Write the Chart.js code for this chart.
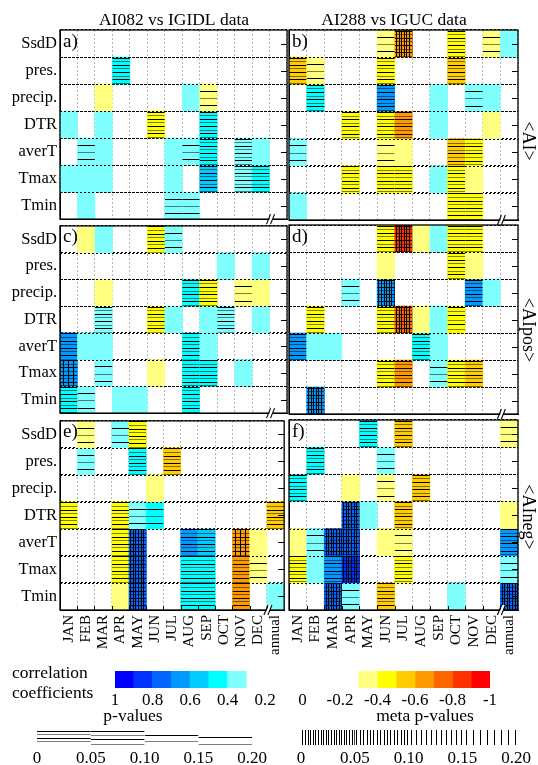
<!DOCTYPE html>
<html>
<head>
<meta charset="utf-8">
<script src="https://cdn.jsdelivr.net/npm/chart.js@4.4.1/dist/chart.umd.min.js"></script>
<style>
  html, body { margin: 0; padding: 0; background: #fff; overflow: hidden; }
  #page { position: relative; width: 538px; height: 765px; overflow: hidden; }
  #page canvas { position: absolute; }
</style>
</head>
<body>
<div id="page"></div>
<script>
const months = ['JAN', 'FEB', 'MAR', 'APR', 'MAY', 'JUN', 'JUL', 'AUG', 'SEP', 'OCT', 'NOV', 'DEC', 'annual'];
const variables = ['SsdD', 'pres.', 'precip.', 'DTR', 'averT', 'Tmax', 'Tmin'];

// cells: [variable, month, correlation, p-value, meta p-value]
const cellsA = [
  ['pres.', 'APR', 0.45, 0.03, null],
  ['precip.', 'MAR', -0.35, null, null],
  ['precip.', 'AUG', 0.35, null, null],
  ['precip.', 'SEP', -0.35, 0.17, null],
  ['DTR', 'JAN', 0.35, null, null],
  ['DTR', 'MAR', 0.35, null, null],
  ['DTR', 'JUN', -0.45, 0.03, null],
  ['DTR', 'SEP', 0.45, 0.03, null],
  ['averT', 'FEB', 0.35, 0.17, null],
  ['averT', 'MAR', 0.35, null, null],
  ['averT', 'JUL', 0.35, null, null],
  ['averT', 'AUG', 0.35, 0.17, null],
  ['averT', 'SEP', 0.45, 0.03, null],
  ['averT', 'NOV', 0.38, 0.03, null],
  ['averT', 'DEC', 0.35, null, null],
  ['Tmax', 'JAN', 0.35, null, null],
  ['Tmax', 'FEB', 0.35, null, null],
  ['Tmax', 'MAR', 0.35, null, null],
  ['Tmax', 'JUL', 0.35, null, null],
  ['Tmax', 'SEP', 0.55, 0.02, null],
  ['Tmax', 'NOV', 0.38, 0.04, null],
  ['Tmax', 'DEC', 0.45, 0.04, null],
  ['Tmin', 'FEB', 0.35, null, null],
  ['Tmin', 'JUL', 0.35, 0.17, null],
  ['Tmin', 'AUG', 0.35, 0.17, null]
];

const cellsB = [
  ['SsdD', 'JUN', -0.35, 0.17, null],
  ['SsdD', 'JUL', -0.65, 0.02, 0.02],
  ['SsdD', 'OCT', -0.45, 0.03, null],
  ['SsdD', 'DEC', -0.35, 0.17, null],
  ['SsdD', 'annual', 0.35, null, null],
  ['pres.', 'JAN', -0.55, 0.03, null],
  ['pres.', 'FEB', -0.35, 0.15, null],
  ['pres.', 'JUN', -0.45, 0.03, null],
  ['pres.', 'OCT', -0.55, 0.03, null],
  ['precip.', 'FEB', 0.45, 0.03, null],
  ['precip.', 'JUN', 0.62, 0.02, null],
  ['precip.', 'SEP', 0.35, null, null],
  ['precip.', 'NOV', 0.35, 0.17, null],
  ['precip.', 'DEC', 0.35, null, null],
  ['DTR', 'APR', -0.45, 0.03, null],
  ['DTR', 'JUN', -0.45, 0.03, null],
  ['DTR', 'JUL', -0.65, 0.03, null],
  ['DTR', 'SEP', 0.35, null, null],
  ['DTR', 'DEC', -0.35, null, null],
  ['averT', 'JAN', 0.35, 0.17, null],
  ['averT', 'JUN', -0.35, 0.17, null],
  ['averT', 'JUL', -0.35, null, null],
  ['averT', 'OCT', -0.55, 0.03, null],
  ['averT', 'NOV', -0.45, 0.03, null],
  ['Tmax', 'APR', -0.45, 0.03, null],
  ['Tmax', 'JUN', -0.45, 0.03, null],
  ['Tmax', 'JUL', -0.45, 0.03, null],
  ['Tmax', 'SEP', 0.35, null, null],
  ['Tmax', 'OCT', -0.45, 0.03, null],
  ['Tmax', 'NOV', -0.35, null, null],
  ['Tmin', 'JAN', 0.35, null, null],
  ['Tmin', 'OCT', -0.45, 0.03, null],
  ['Tmin', 'NOV', -0.45, 0.03, null]
];

const cellsC = [
  ['SsdD', 'FEB', -0.35, null, null],
  ['SsdD', 'MAR', 0.35, null, null],
  ['SsdD', 'JUN', -0.45, 0.03, null],
  ['SsdD', 'JUL', 0.35, 0.17, null],
  ['pres.', 'OCT', 0.35, null, null],
  ['pres.', 'DEC', 0.35, null, null],
  ['precip.', 'MAR', -0.35, null, null],
  ['precip.', 'AUG', 0.45, 0.03, null],
  ['precip.', 'SEP', -0.45, 0.03, null],
  ['precip.', 'NOV', -0.35, 0.17, null],
  ['precip.', 'DEC', -0.35, null, null],
  ['DTR', 'MAR', 0.38, 0.04, null],
  ['DTR', 'JUN', -0.45, 0.03, null],
  ['DTR', 'JUL', 0.35, null, null],
  ['DTR', 'SEP', 0.35, null, null],
  ['DTR', 'OCT', 0.38, 0.04, null],
  ['DTR', 'DEC', 0.35, null, null],
  ['averT', 'JAN', 0.62, 0.02, null],
  ['averT', 'FEB', 0.35, null, null],
  ['averT', 'MAR', 0.35, null, null],
  ['averT', 'AUG', 0.45, 0.03, null],
  ['averT', 'SEP', 0.35, null, null],
  ['Tmax', 'JAN', 0.68, 0.02, 0.12],
  ['Tmax', 'MAR', 0.35, 0.17, null],
  ['Tmax', 'JUN', -0.35, null, null],
  ['Tmax', 'AUG', 0.45, 0.03, null],
  ['Tmax', 'SEP', 0.45, 0.04, null],
  ['Tmax', 'NOV', 0.35, null, null],
  ['Tmin', 'JAN', 0.45, 0.03, null],
  ['Tmin', 'FEB', 0.35, 0.17, null],
  ['Tmin', 'APR', 0.35, null, null],
  ['Tmin', 'MAY', 0.35, null, null],
  ['Tmin', 'AUG', 0.45, 0.03, null]
];

const cellsD = [
  ['SsdD', 'JUN', -0.45, 0.03, null],
  ['SsdD', 'JUL', -0.85, 0.02, 0.02],
  ['SsdD', 'AUG', -0.35, null, null],
  ['SsdD', 'SEP', 0.35, null, null],
  ['SsdD', 'OCT', -0.45, 0.03, null],
  ['SsdD', 'NOV', -0.45, 0.03, null],
  ['pres.', 'JUN', -0.35, null, null],
  ['pres.', 'OCT', -0.45, 0.03, null],
  ['pres.', 'NOV', -0.35, null, null],
  ['precip.', 'APR', 0.35, 0.17, null],
  ['precip.', 'JUN', 0.65, 0.02, 0.03],
  ['precip.', 'NOV', 0.62, 0.03, null],
  ['precip.', 'DEC', 0.35, null, null],
  ['DTR', 'FEB', -0.45, 0.03, null],
  ['DTR', 'JUN', -0.45, 0.03, null],
  ['DTR', 'JUL', -0.75, 0.02, 0.02],
  ['DTR', 'AUG', -0.35, null, null],
  ['DTR', 'SEP', 0.35, null, null],
  ['DTR', 'OCT', -0.45, 0.06, null],
  ['averT', 'JAN', 0.62, 0.03, null],
  ['averT', 'FEB', 0.35, null, null],
  ['averT', 'MAR', 0.35, null, null],
  ['averT', 'AUG', 0.45, 0.03, null],
  ['averT', 'SEP', 0.35, null, null],
  ['Tmax', 'JUN', -0.45, 0.03, null],
  ['Tmax', 'JUL', -0.65, 0.03, null],
  ['Tmax', 'SEP', 0.35, 0.17, null],
  ['Tmax', 'OCT', -0.45, 0.03, null],
  ['Tmax', 'NOV', -0.55, 0.03, null],
  ['Tmin', 'FEB', 0.68, 0.02, 0.03]
];

const cellsE = [
  ['SsdD', 'FEB', -0.35, 0.17, null],
  ['SsdD', 'APR', 0.35, 0.17, null],
  ['SsdD', 'MAY', -0.45, 0.03, null],
  ['pres.', 'FEB', 0.35, 0.17, null],
  ['pres.', 'MAY', 0.45, 0.03, null],
  ['pres.', 'JUL', -0.55, 0.03, null],
  ['precip.', 'JUN', -0.35, null, null],
  ['DTR', 'JAN', -0.45, 0.03, null],
  ['DTR', 'APR', -0.45, 0.03, null],
  ['DTR', 'MAY', 0.35, 0.17, null],
  ['DTR', 'JUN', 0.45, 0.17, null],
  ['DTR', 'annual', -0.55, 0.03, null],
  ['averT', 'APR', -0.45, 0.03, null],
  ['averT', 'MAY', 0.75, 0.02, 0.02],
  ['averT', 'AUG', 0.62, 0.03, null],
  ['averT', 'SEP', 0.58, 0.03, null],
  ['averT', 'NOV', -0.65, 0.02, 0.12],
  ['averT', 'DEC', -0.35, null, null],
  ['Tmax', 'APR', -0.45, 0.03, null],
  ['Tmax', 'MAY', 0.72, 0.02, 0.03],
  ['Tmax', 'AUG', 0.45, 0.03, null],
  ['Tmax', 'SEP', 0.45, 0.03, null],
  ['Tmax', 'NOV', -0.65, 0.03, null],
  ['Tmax', 'DEC', -0.35, 0.17, null],
  ['Tmin', 'APR', -0.35, null, null],
  ['Tmin', 'MAY', 0.75, 0.02, 0.02],
  ['Tmin', 'AUG', 0.45, 0.03, null],
  ['Tmin', 'SEP', 0.45, 0.03, null],
  ['Tmin', 'NOV', -0.65, 0.03, null],
  ['Tmin', 'annual', 0.35, null, null]
];

const cellsF = [
  ['SsdD', 'MAY', 0.45, 0.03, null],
  ['SsdD', 'JUL', -0.55, 0.03, null],
  ['SsdD', 'annual', -0.35, 0.17, null],
  ['pres.', 'FEB', 0.45, 0.03, null],
  ['pres.', 'JUN', 0.35, 0.17, null],
  ['precip.', 'JAN', 0.45, 0.03, null],
  ['precip.', 'APR', -0.35, null, null],
  ['precip.', 'JUN', -0.35, 0.17, null],
  ['precip.', 'AUG', -0.55, 0.03, null],
  ['DTR', 'APR', 0.72, 0.02, 0.02],
  ['DTR', 'MAY', 0.35, null, null],
  ['DTR', 'JUL', -0.55, 0.03, null],
  ['DTR', 'annual', -0.35, null, null],
  ['averT', 'JAN', -0.35, null, null],
  ['averT', 'FEB', 0.35, 0.17, null],
  ['averT', 'MAR', 0.72, 0.02, 0.03],
  ['averT', 'APR', 0.72, 0.02, 0.03],
  ['averT', 'JUN', -0.35, null, null],
  ['averT', 'JUL', -0.35, 0.17, null],
  ['averT', 'annual', 0.62, 0.03, null],
  ['Tmax', 'JAN', -0.45, 0.03, null],
  ['Tmax', 'FEB', 0.35, null, null],
  ['Tmax', 'MAR', 0.62, 0.03, null],
  ['Tmax', 'APR', 0.82, 0.02, 0.02],
  ['Tmax', 'JUL', -0.45, 0.03, null],
  ['Tmax', 'annual', 0.35, 0.17, null],
  ['Tmin', 'MAR', 0.72, 0.02, 0.03],
  ['Tmin', 'APR', 0.35, 0.17, null],
  ['Tmin', 'JUN', -0.55, 0.03, null],
  ['Tmin', 'OCT', 0.35, null, null],
  ['Tmin', 'annual', 0.72, 0.02, 0.03]
];

// colour classes, |r| from 0.3 to 1 in steps of 0.1
const legendSteps = [0.3, 0.4, 0.5, 0.6, 0.7, 0.8, 0.9, 1.0];
const posColors = ['#80FFFF', '#00FFFF', '#00CCFF', '#0099FF', '#0066FF', '#0033FF', '#0000FF'];
const negColors = ['#FFFF80', '#FFFF00', '#FFCC00', '#FF9900', '#FF6600', '#FF3300', '#FF0000'];
const colorTicks = [1, 0.8, 0.6, 0.4, 0.2, 0, -0.2, -0.4, -0.6, -0.8, -1];
const pEdges = [0, 0.05, 0.10, 0.15, 0.20];

Chart.defaults.font.family = '"Liberation Serif", "Times New Roman", serif';
Chart.defaults.color = '#000';

function corrColor(r) {
  let k = Math.floor((Math.abs(r) - 0.3) * 10 + 1e-6);
  k = Math.max(0, Math.min(6, k));
  return (r > 0 ? posColors : negColors)[k];
}
function pGap(p) { return p < 0.05 ? 3.6 : p < 0.10 ? 4.4 : p < 0.15 ? 5.6 : 7.2; }
function metaGap(p) { return p < 0.05 ? 2.6 : p < 0.10 ? 3.4 : p < 0.15 ? 5 : 7; }

function elRect(el) {
  const p = el.getProps(['x', 'y', 'base', 'width', 'height', 'horizontal'], true);
  if (p.horizontal) {
    return {l: Math.min(p.x, p.base), r: Math.max(p.x, p.base), t: p.y - p.height / 2, b: p.y + p.height / 2};
  }
  return {l: p.x - p.width / 2, r: p.x + p.width / 2, t: Math.min(p.y, p.base), b: Math.max(p.y, p.base)};
}

function drawHatch(ctx, r, p, meta) {
  ctx.save();
  ctx.beginPath();
  ctx.rect(r.l, r.t, r.r - r.l, r.b - r.t);
  ctx.clip();
  ctx.lineWidth = 1;
  if (p != null) {
    const s = pGap(p);
    let k = 0;
    for (let y = r.t + (s > 5 ? s * 0.95 : 0.5); y < r.b; y += s, k++) {
      const yy = Math.round(y) + 0.5;
      ctx.strokeStyle = k % 2 ? 'rgba(0,0,0,0.5)' : '#000';
      ctx.beginPath(); ctx.moveTo(r.l, yy); ctx.lineTo(r.r, yy); ctx.stroke();
    }
  }
  if (meta != null) {
    const s = metaGap(meta);
    ctx.strokeStyle = '#000';
    for (let x = r.l + s / 2; x < r.r; x += s) {
      const xx = Math.round(x) + 0.5;
      ctx.beginPath(); ctx.moveTo(xx, r.t); ctx.lineTo(xx, r.b); ctx.stroke();
    }
  }
  ctx.restore();
}

const hatchPlugin = {
  id: 'hatch',
  afterDatasetsDraw(chart) {
    chart.data.datasets.forEach((ds, d) => {
      if (!ds.hatch) return;
      chart.getDatasetMeta(d).data.forEach((el, j) => {
        const h = ds.hatch[j];
        if (!h || ds.data[j] == null) return;
        drawHatch(chart.ctx, elRect(el), h.p, h.meta);
      });
    });
  }
};

const textPlugin = {
  id: 'texts',
  afterDraw(chart, args, o) {
    const ctx = chart.ctx;
    (o.items || []).forEach(t => {
      ctx.save();
      ctx.fillStyle = '#000';
      ctx.font = t.size + 'px "Liberation Serif", serif';
      ctx.textAlign = t.align || 'left';
      ctx.textBaseline = t.baseline || 'alphabetic';
      ctx.translate(t.x - o.ox, t.y - o.oy);
      if (t.rotate) ctx.rotate(t.rotate);
      ctx.fillText(t.text, 0, 0);
      ctx.restore();
    });
  }
};

const panelPlugin = {
  id: 'panelDeco',
  afterDatasetsDraw(chart) {
    // dotted row separators lie over the coloured cells
    const ctx = chart.ctx, ys = chart.scales.y;
    const {left, right} = chart.chartArea;
    ctx.save();
    ctx.strokeStyle = '#000';
    ctx.lineWidth = 1;
    ctx.setLineDash([2, 2]);
    for (let i = 1; i < variables.length; i++) {
      const y = Math.round(ys.getPixelForValue(i)) + 0.5;
      ctx.beginPath(); ctx.moveTo(left, y); ctx.lineTo(right, y); ctx.stroke();
    }
    ctx.restore();
  },
  afterDraw(chart, args, o) {
    const ctx = chart.ctx, xs = chart.scales.x, ys = chart.scales.y;
    const {left, right, top, bottom} = chart.chartArea;
    ctx.save();
    ctx.strokeStyle = '#000';
    ctx.lineWidth = 1.3;
    ctx.strokeRect(left, top, right - left, bottom - top);
    ctx.lineWidth = 1;
    variables.forEach((v, i) => {
      const y = Math.round(ys.getPixelForValue(i + 0.5)) + 0.5;
      ctx.beginPath(); ctx.moveTo(right - 6, y); ctx.lineTo(right, y); ctx.stroke();
    });
    if (o.bottomTicks) {
      for (let i = 1; i < months.length; i++) {
        const x = Math.round((xs.getPixelForValue(i - 1) + xs.getPixelForValue(i)) / 2) + 0.5;
        ctx.beginPath(); ctx.moveTo(x, bottom); ctx.lineTo(x, bottom - 4); ctx.stroke();
      }
    }
    // axis break between DEC and annual
    const xb = (xs.getPixelForValue(11) + xs.getPixelForValue(12)) / 2 + 2;
    ctx.fillStyle = '#fff';
    ctx.beginPath();
    ctx.moveTo(xb - 4, bottom + 5); ctx.lineTo(xb, bottom - 5);
    ctx.lineTo(xb + 3, bottom - 5); ctx.lineTo(xb - 1, bottom + 5);
    ctx.closePath(); ctx.fill();
    ctx.lineWidth = 1.1;
    ctx.beginPath(); ctx.moveTo(xb - 5, bottom + 5); ctx.lineTo(xb - 1, bottom - 5); ctx.stroke();
    ctx.beginPath(); ctx.moveTo(xb - 1, bottom + 5); ctx.lineTo(xb + 3, bottom - 5); ctx.stroke();
    ctx.restore();
  }
};

function addCanvas(left, top, width, height) {
  const cv = document.createElement('canvas');
  cv.width = width; cv.height = height;
  cv.style.left = left + 'px'; cv.style.top = top + 'px';
  cv.style.width = width + 'px'; cv.style.height = height + 'px';
  document.getElementById('page').appendChild(cv);
  return cv;
}

function drawPanel(cells, g) {
  const cv = addCanvas(g.cx, g.cy, g.cw, g.ch);
  const lookup = variables.map(v => months.map(m => cells.find(c => c[0] === v && c[1] === m) || null));
  const datasets = variables.map((v, i) => ({
    label: v,
    data: lookup[i].map(c => c ? [i, i + 1] : null),
    backgroundColor: lookup[i].map(c => c ? corrColor(c[2]) : 'rgba(0,0,0,0)'),
    hatch: lookup[i].map(c => c ? {p: c[3], meta: c[4]} : null),
    grouped: false,
    barPercentage: 1,
    categoryPercentage: 1,
    borderWidth: 0
  }));
  return new Chart(cv, {
    type: 'bar',
    data: {labels: months, datasets: datasets},
    options: {
      responsive: false,
      animation: false,
      events: [],
      layout: {padding: g.pad},
      plugins: {
        legend: {display: false},
        tooltip: {enabled: false},
        panelDeco: {bottomTicks: g.bottom},
        texts: {ox: g.cx, oy: g.cy, items: g.texts}
      },
      scales: {
        x: {
          offset: true,
          grid: {offset: true, color: '#b4b4b4', drawTicks: false},
          border: {display: true, color: '#000', width: 1, dash: [2, 2]},
          ticks: {display: g.bottom, autoSkip: false, minRotation: 90, maxRotation: 90, padding: 5, font: {size: 15}},
          afterFit: s => { s.height = g.bottom ? 50 : 0; }
        },
        y: {
          type: 'linear',
          min: 0,
          max: 7,
          reverse: true,
          afterBuildTicks: s => { s.ticks = variables.map((v, i) => ({value: i + 0.5})); },
          grid: {offset: true, color: '#000', drawTicks: false},
          border: {display: true, color: '#000', width: 1, dash: [2, 2]},
          ticks: {display: g.leftCol, autoSkip: false, padding: 3, font: {size: 16.5}, callback: (v, i) => variables[i]},
          afterFit: s => { s.width = g.leftCol ? 60 : 0; }
        }
      }
    },
    plugins: [hatchPlugin, panelPlugin, textPlugin]
  });
}

// panel frames: left column plot x 60-287, right column 289-518
const panelList = [
  {cells: cellsA, col: 0, row: 0, letter: 'a)', title: 'AI082 vs IGIDL data', titleX: 174},
  {cells: cellsB, col: 1, row: 0, letter: 'b)', title: 'AI288 vs IGUC data', titleX: 394, side: '<AI>', sideY: 141},
  {cells: cellsC, col: 0, row: 1, letter: 'c)'},
  {cells: cellsD, col: 1, row: 1, letter: 'd)', side: '<AIpos>', sideY: 330},
  {cells: cellsE, col: 0, row: 2, letter: 'e)'},
  {cells: cellsF, col: 1, row: 2, letter: 'f)', side: '<AIneg>', sideY: 517}
];
const colFrames = [[60, 287], [289, 518]];
const rowFrames = [[30, 220], [225, 414], [420, 610]];

panelList.forEach(p => {
  const [L, R] = colFrames[p.col];
  const [T, B] = rowFrames[p.row];
  const leftCol = p.col === 0;
  const bottom = p.row === 2;
  const cx = leftCol ? 0 : L - 12;
  const cw = leftCol ? R + 12 : 538 - cx;
  const cy = p.row === 0 ? 0 : T - 12;
  const ch = bottom ? (B - cy) + 50 : (B - cy) + 12;
  const texts = [{text: p.letter, x: L + 3, y: T + 17, size: 19}];
  if (p.title) texts.push({text: p.title, x: p.titleX, y: 25, size: 17.5, align: 'center'});
  if (p.side) texts.push({text: p.side, x: 528, y: p.sideY, size: 18, align: 'center', baseline: 'middle', rotate: Math.PI / 2});
  drawPanel(p.cells, {
    cx: cx, cy: cy, cw: cw, ch: ch, leftCol: leftCol, bottom: bottom, texts: texts,
    pad: {left: leftCol ? 0 : 12, right: cw - (R - cx), top: T - cy, bottom: bottom ? 0 : 12}
  });
});

// colour legend
(function () {
  const ox = 0, oy = 655;
  const cv = addCanvas(ox, oy, 538, 60);
  const boxes = [];
  for (let k = 0; k < 7; k++) {
    boxes.push({from: legendSteps[k], to: legendSteps[k + 1], color: posColors[k]});
    boxes.push({from: -legendSteps[k], to: -legendSteps[k + 1], color: negColors[k]});
  }
  new Chart(cv, {
    type: 'bar',
    data: {
      labels: [''],
      datasets: boxes.map(b => ({data: [[b.from, b.to]], backgroundColor: b.color, grouped: false,
        barPercentage: 1, categoryPercentage: 1, borderWidth: 0}))
    },
    options: {
      indexAxis: 'y', responsive: false, animation: false, events: [],
      layout: {padding: {left: 115, right: 48, top: 16, bottom: 0}},
      plugins: {
        legend: {display: false}, tooltip: {enabled: false},
        texts: {ox: ox, oy: oy, items: [
          {text: 'correlation', x: 12, y: 678, size: 17.5},
          {text: 'coefficients', x: 12, y: 698, size: 17.5}
        ]}
      },
      scales: {
        x: {
          type: 'linear', min: -1, max: 1, reverse: true,
          afterBuildTicks: s => { s.ticks = colorTicks.map(v => ({value: v})); },
          grid: {display: false, drawTicks: false}, border: {display: false},
          ticks: {autoSkip: false, maxRotation: 0, padding: 2, font: {size: 17},
            callback: v => String(Math.round(v * 10) / 10)},
          afterFit: s => { s.height = 27; }
        },
        y: {display: false}
      }
    },
    plugins: [textPlugin]
  });
})();

// p-value and meta p-value legends
function drawPLegend(ox, padL, padR, label, labelX, vertical) {
  const oy = 700;
  const cv = addCanvas(ox, oy, 270, 65);
  const segs = pEdges.slice(0, -1).map((e, i) => [e, pEdges[i + 1]]);
  new Chart(cv, {
    type: 'bar',
    data: {
      labels: [''],
      datasets: segs.map(s => {
        const mid = (s[0] + s[1]) / 2;
        return {data: [s], backgroundColor: 'rgba(0,0,0,0)', grouped: false, barPercentage: 1,
          categoryPercentage: 1, borderWidth: 0,
          hatch: [vertical ? {p: null, meta: mid} : {p: mid, meta: null}]};
      })
    },
    options: {
      indexAxis: 'y', responsive: false, animation: false, events: [],
      layout: {padding: {left: padL, right: padR, top: 30, bottom: 0}},
      plugins: {
        legend: {display: false}, tooltip: {enabled: false},
        texts: {ox: ox, oy: oy, items: [{text: label, x: labelX, y: 721, size: 17.5, align: 'center'}]}
      },
      scales: {
        x: {
          type: 'linear', min: 0, max: 0.2,
          afterBuildTicks: s => { s.ticks = pEdges.map(v => ({value: v})); },
          grid: {display: false, drawTicks: false}, border: {display: false},
          ticks: {autoSkip: false, maxRotation: 0, padding: 3, font: {size: 17},
            callback: v => (Math.abs(v) < 1e-9 ? '0' : v.toFixed(2))},
          afterFit: s => { s.height = 20; }
        },
        y: {display: false}
      }
    },
    plugins: [hatchPlugin, textPlugin]
  });
}
drawPLegend(0, 37, 17, 'p-values', 133, false);
drawPLegend(268, 33, 22, 'meta p-values', 425, true);
</script>
</body>
</html>
